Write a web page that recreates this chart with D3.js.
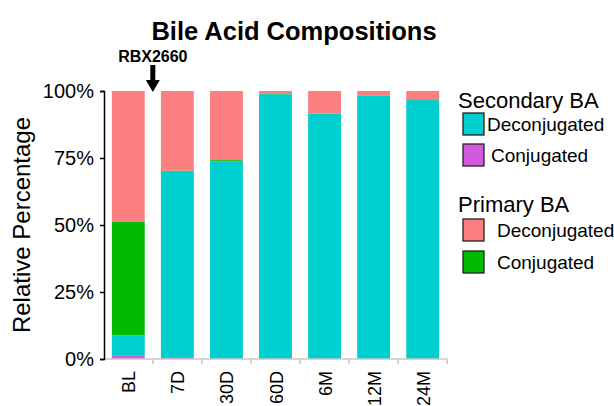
<!DOCTYPE html>
<html>
<head>
<meta charset="utf-8">
<script src="https://cdn.jsdelivr.net/npm/d3@7/dist/d3.min.js"></script>
<style>
  html, body { margin: 0; padding: 0; background: #fff; }
  svg { display: block; font-family: "Liberation Sans", Arial, sans-serif; }
</style>
</head>
<body>
<div id="chart"></div>
<script>
const categories = ["BL", "7D", "30D", "60D", "6M", "12M", "24M"];
// percentages, stacked bottom to top
const secConjugated   = [1.2, 0.4, 0.1, 0.0, 0.0, 0.0, 0.0];
const secDeconjugated = [7.6, 69.5, 73.7, 98.8, 91.5, 98.4, 96.6];
const priConjugated   = [42.3, 0.4, 0.4, 0.3, 0.0, 0.0, 0.3];
const priDeconjugated = [48.9, 29.7, 25.8, 0.9, 8.5, 1.6, 3.1];
const yTicks = [0, 25, 50, 75, 100];

const seriesKeys = ["secConj", "secDeconj", "priConj", "priDeconj"];
const colors = {
  secConj: "#d359e0",
  secDeconj: "#00cfcf",
  priConj: "#00bb00",
  priDeconj: "#fa7f7e"
};

const table = categories.map((c, i) => ({
  cat: c,
  secConj: secConjugated[i],
  secDeconj: secDeconjugated[i],
  priConj: priConjugated[i],
  priDeconj: priDeconjugated[i]
}));

const width = 614, height = 406;
const margin = { left: 104, right: 167, top: 91, bottom: 47 };

const svg = d3.select("#chart").append("svg")
  .attr("width", width).attr("height", height);

const x = d3.scaleBand()
  .domain(categories)
  .range([margin.left, width - margin.right])
  .paddingInner(0.33)
  .paddingOuter(0.16);

const y = d3.scaleLinear()
  .domain([0, 100])
  .range([height - margin.bottom, margin.top]);

const stacked = d3.stack().keys(seriesKeys)(table);

svg.append("g").selectAll("g")
  .data(stacked)
  .join("g")
  .attr("fill", d => colors[d.key])
  .selectAll("rect")
  .data(d => d)
  .join("rect")
  .attr("x", d => x(d.data.cat))
  .attr("width", x.bandwidth())
  .attr("y", d => y(d[1]))
  .attr("height", d => Math.max(0, y(d[0]) - y(d[1])));

// x axis (light gray with ticks between bars)
const xAxis = svg.append("g")
  .attr("transform", `translate(0,${y(0)})`);
xAxis.append("line")
  .attr("x1", margin.left).attr("x2", width - margin.right)
  .attr("stroke", "#c8c8c8").attr("stroke-width", 1.5);
const step = x.step();
xAxis.selectAll("line.tk")
  .data(categories)
  .join("line")
  .attr("class", "tk")
  .attr("x1", d => x(d) + x.bandwidth() + step * x.paddingInner() / 2)
  .attr("x2", d => x(d) + x.bandwidth() + step * x.paddingInner() / 2)
  .attr("y1", 0).attr("y2", 5)
  .attr("stroke", "#c8c8c8").attr("stroke-width", 1.5);
xAxis.selectAll("text")
  .data(categories)
  .join("text")
  .attr("transform", d => `translate(${x(d) + x.bandwidth() / 2 + 7},12) rotate(-90)`)
  .attr("text-anchor", "end")
  .attr("font-size", 18)
  .attr("fill", "#000")
  .text(d => d);

// y axis
const yAxis = svg.append("g")
  .attr("transform", `translate(${margin.left},0)`)
  .call(d3.axisLeft(y).tickValues(yTicks).tickSize(4).tickPadding(6).tickFormat(d => d + "%"));
yAxis.select(".domain").attr("stroke", "#000").attr("stroke-width", 1.5);
yAxis.selectAll(".tick line").attr("stroke", "#000").attr("stroke-width", 1.5);
yAxis.selectAll(".tick text")
  .attr("font-size", 20)
  .attr("font-family", "Liberation Sans, Arial, sans-serif")
  .attr("fill", "#000");

svg.append("text")
  .attr("transform", `translate(30,${(y(0) + y(100)) / 2}) rotate(-90)`)
  .attr("text-anchor", "middle")
  .attr("font-size", 24)
  .text("Relative Percentage");

// title
svg.append("text")
  .attr("x", 294).attr("y", 40)
  .attr("text-anchor", "middle")
  .attr("font-size", 25.5)
  .attr("font-weight", "bold")
  .text("Bile Acid Compositions");

// treatment marker
const arrowX = x("7D") - step * x.paddingInner() / 2;
svg.append("text")
  .attr("x", arrowX).attr("y", 62)
  .attr("text-anchor", "middle")
  .attr("font-size", 16)
  .attr("font-weight", "bold")
  .text("RBX2660");
svg.append("path")
  .attr("d", `M${arrowX - 2.5},65 L${arrowX + 2.5},65 L${arrowX + 2.5},80 L${arrowX + 7},80 L${arrowX},92 L${arrowX - 7},80 L${arrowX - 2.5},80 Z`)
  .attr("fill", "#000");

// legend
const legendGroups = [
  { title: "Secondary BA", ty: 108, items: [
    { key: "secDeconj", label: "Deconjugated", y: 113, tx: 487 },
    { key: "secConj", label: "Conjugated", y: 144, tx: 491 }
  ]},
  { title: "Primary BA", ty: 212, items: [
    { key: "priDeconj", label: "Deconjugated", y: 219, tx: 497 },
    { key: "priConj", label: "Conjugated", y: 251, tx: 497 }
  ]}
];
const legend = svg.append("g");
legendGroups.forEach(g => {
  legend.append("text")
    .attr("x", 458).attr("y", g.ty)
    .attr("font-size", 22)
    .text(g.title);
  g.items.forEach(it => {
    legend.append("rect")
      .attr("x", 463).attr("y", it.y)
      .attr("width", 21).attr("height", 22)
      .attr("fill", colors[it.key])
      .attr("stroke", "#222").attr("stroke-width", 1.3);
    legend.append("text")
      .attr("x", it.tx).attr("y", it.y + 18)
      .attr("font-size", 19)
      .text(it.label);
  });
});
</script>
</body>
</html>
